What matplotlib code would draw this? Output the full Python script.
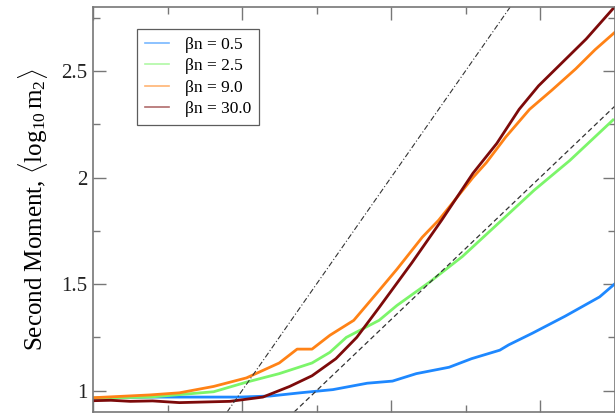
import numpy as np
import matplotlib
matplotlib.use("Agg")
import matplotlib.pyplot as plt
from matplotlib.ticker import MultipleLocator, FuncFormatter

plt.rcParams['font.family'] = ['Liberation Serif', 'DejaVu Serif']
plt.rcParams['mathtext.fontset'] = 'custom'
plt.rcParams['mathtext.rm'] = 'Liberation Serif'
plt.rcParams['mathtext.it'] = 'Liberation Serif:italic'

# curves (x = log time, y = <log10 m2>)
x_05 = [0.00, 0.38, 0.72, 0.98, 1.19, 1.39, 1.61, 1.84, 2.01, 2.17, 2.39, 2.54, 2.73, 2.79, 2.95, 3.17, 3.40, 3.50]
y_05 = [0.965, 0.97, 0.97, 0.97, 0.975, 0.99, 1.005, 1.035, 1.045, 1.08, 1.11, 1.15, 1.19, 1.215, 1.27, 1.35, 1.44, 1.50]

x_25 = [0.00, 0.38, 0.81, 1.03, 1.25, 1.47, 1.59, 1.70, 1.92, 2.04, 2.26, 2.48, 2.79, 2.96, 3.20, 3.49]
y_25 = [0.965, 0.97, 0.995, 1.04, 1.08, 1.13, 1.18, 1.25, 1.33, 1.40, 1.51, 1.63, 1.83, 1.94, 2.08, 2.27]

x_90 = [0.00, 0.38, 0.58, 0.81, 1.03, 1.25, 1.37, 1.47, 1.59, 1.75, 1.92, 2.04, 2.21, 2.32, 2.55, 2.64, 2.77, 2.93, 3.08, 3.24, 3.37, 3.50]
y_90 = [0.967, 0.98, 0.99, 1.02, 1.06, 1.13, 1.195, 1.195, 1.26, 1.33, 1.47, 1.57, 1.72, 1.80, 2.00, 2.07, 2.19, 2.32, 2.41, 2.51, 2.60, 2.68]

x_30 = [0.00, 0.12, 0.25, 0.40, 0.58, 0.92, 1.14, 1.32, 1.47, 1.63, 1.77, 1.92, 2.14, 2.34, 2.55, 2.71, 2.86, 2.99, 3.15, 3.31, 3.50]
y_30 = [0.953, 0.955, 0.95, 0.952, 0.944, 0.95, 0.97, 1.02, 1.07, 1.15, 1.25, 1.39, 1.60, 1.80, 2.02, 2.16, 2.32, 2.43, 2.54, 2.65, 2.80]

labels = ['βn = 0.5', 'βn = 2.5', 'βn = 9.0', 'βn = 30.0']
colors = ['#1e88ff', '#7cf56a', '#ff8216', '#7d0a0a']

# guide lines through origin
slope_dashdot = 1.0
slope_dashed = 2.0 / 3.0

fig = plt.figure(figsize=(6.15, 4.16), dpi=100)
ax = fig.add_axes([93 / 615, 4 / 416, 521.5 / 615, 405 / 416])

series = [(x_05, y_05), (x_25, y_25), (x_90, y_90), (x_30, y_30)]
for (xs, ys), c, lab in zip(series, colors, labels):
    ax.plot(xs, ys, color=c, lw=2.0, label=lab, solid_joinstyle='round')

ax.axline((0, 0), slope=slope_dashdot, color='#333333', lw=0.8, dashes=(5, 2, 1, 2))
ax.axline((0, 0), slope=slope_dashed, color='#333333', lw=0.9, dashes=(4, 2.5))

ax.set_xlim(0, 3.5)
ax.set_ylim(0.9, 2.8)
ax.xaxis.set_major_locator(MultipleLocator(1))
ax.xaxis.set_minor_locator(MultipleLocator(0.5))
ax.yaxis.set_major_locator(MultipleLocator(0.5))
ax.yaxis.set_minor_locator(MultipleLocator(0.25))
ax.yaxis.set_major_formatter(FuncFormatter(lambda v, p: f'{v:g}'))
ax.tick_params(which='both', direction='in', top=True, right=True, colors='#777777',
               labelcolor='#222222', labelbottom=False)
ax.tick_params(which='major', length=9, width=1.0, labelsize=15, pad=4)
ax.tick_params(which='minor', length=5, width=1.0)
for sp in ax.spines.values():
    sp.set_color('#777777')
    sp.set_linewidth(1.2)

ax.set_ylabel(r'Second Moment, $\langle\mathrm{log}_{10}\,\mathrm{m}_2\rangle$', fontsize=18, labelpad=8)

leg = ax.legend(loc='upper left', bbox_to_anchor=(44 / 521.5, 1 - 22 / 405), fontsize=12.5,
                frameon=True, fancybox=False, edgecolor='#333333', handlelength=1.4,
                handletextpad=0.9, labelspacing=0.3, borderpad=0.45, borderaxespad=0)
leg.get_frame().set_linewidth(0.9)
for h in leg.get_lines():
    h.set_linewidth(1.2)
    h.set_alpha(0.6)

fig.savefig('out.png', dpi=100)
